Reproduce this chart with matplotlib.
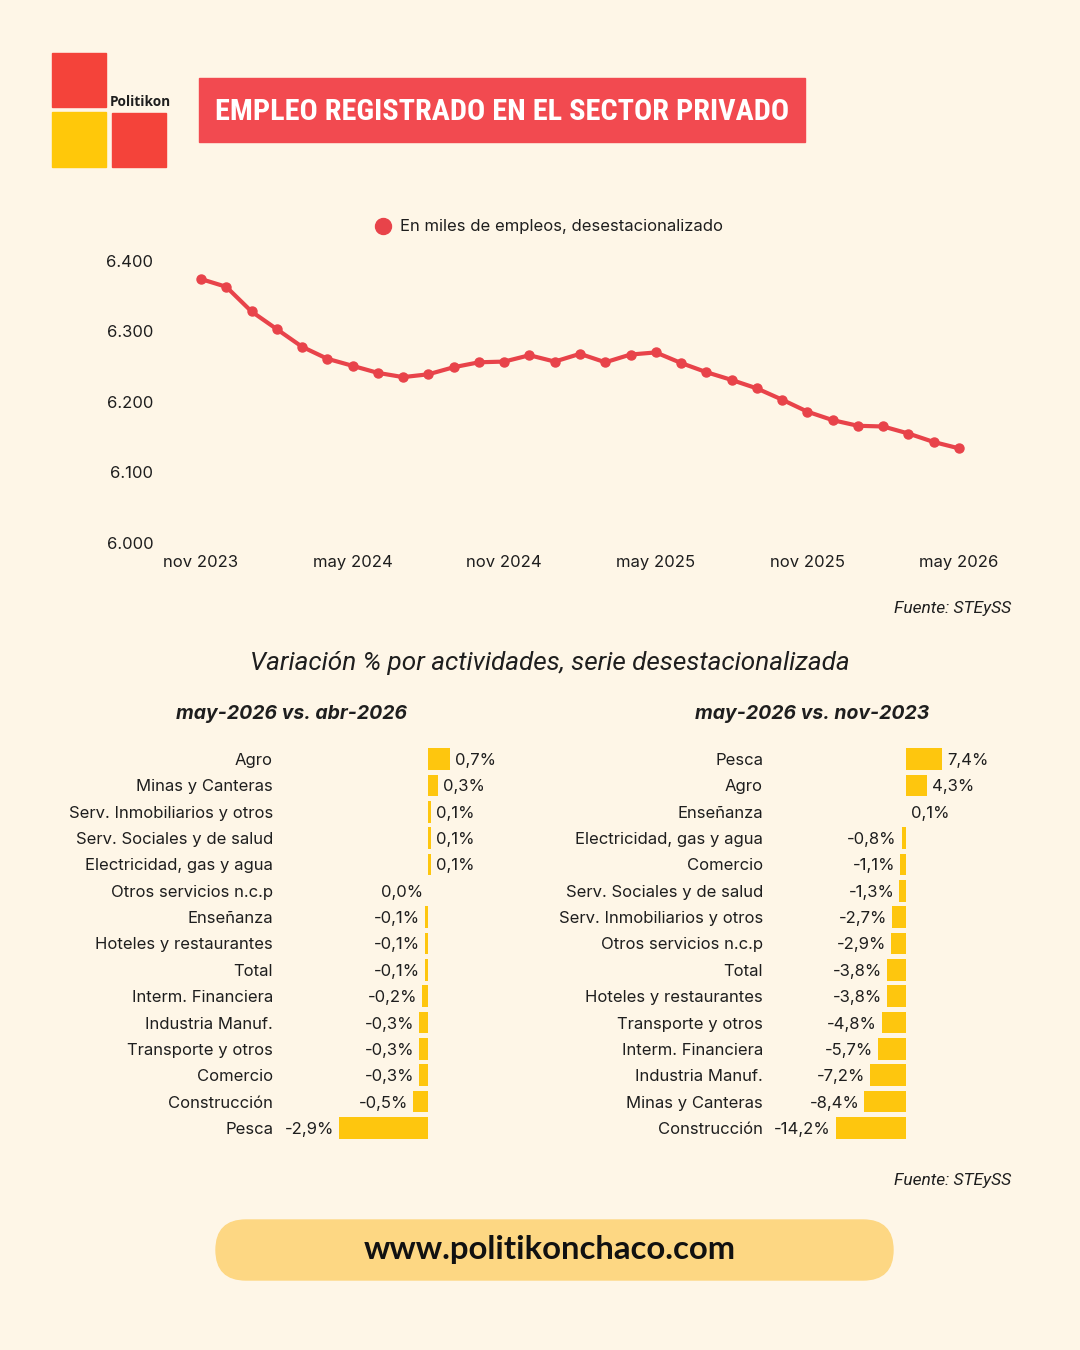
import matplotlib
matplotlib.use("Agg")
import matplotlib.pyplot as plt
from matplotlib.patches import Rectangle, FancyBboxPatch
from matplotlib.lines import Line2D
from matplotlib.ticker import FuncFormatter

# ---------------- data ----------------
empleo = [6374, 6363, 6328, 6303, 6278, 6261, 6251, 6241, 6235, 6239, 6249,
          6256, 6257, 6266, 6257, 6268, 6256, 6267, 6270, 6255, 6242, 6231,
          6219, 6203, 6186, 6174, 6166, 6165, 6155, 6143, 6134]
xtick_pos = [0, 6, 12, 18, 24, 30]
xtick_labels = ["nov 2023", "may 2024", "nov 2024", "may 2025", "nov 2025", "may 2026"]
yticks = [6000, 6100, 6200, 6300, 6400]

mensual_cat = ["Agro", "Minas y Canteras", "Serv. Inmobiliarios y otros",
               "Serv. Sociales y de salud", "Electricidad, gas y agua",
               "Otros servicios n.c.p", "Enseñanza", "Hoteles y restaurantes",
               "Total", "Interm. Financiera", "Industria Manuf.",
               "Transporte y otros", "Comercio", "Construcción", "Pesca"]
mensual_val = [0.7, 0.3, 0.1, 0.1, 0.1, 0.0, -0.1, -0.1, -0.1, -0.2, -0.3,
               -0.3, -0.3, -0.5, -2.9]

acum_cat = ["Pesca", "Agro", "Enseñanza", "Electricidad, gas y agua",
            "Comercio", "Serv. Sociales y de salud", "Serv. Inmobiliarios y otros",
            "Otros servicios n.c.p", "Total", "Hoteles y restaurantes",
            "Transporte y otros", "Interm. Financiera", "Industria Manuf.",
            "Minas y Canteras", "Construcción"]
acum_val = [7.4, 4.3, 0.1, -0.8, -1.1, -1.3, -2.7, -2.9, -3.8, -3.8, -4.8,
            -5.7, -7.2, -8.4, -14.2]

# ---------------- style ----------------
BG = "#FEF6E7"
RED = "#E8434A"
TITLE_RED = "#F24A50"
LOGO_RED = "#F4433A"
YELLOW = "#FEC60E"
PILL = "#FDD783"
TXT = "#1E1E1E"
FONT = ["Inter", "DejaVu Sans"]
plt.rcParams["font.family"] = FONT

W, H = 1080, 1350
fig = plt.figure(figsize=(W / 100, H / 100), dpi=100, facecolor=BG)
renderer = fig.canvas.get_renderer()


def fx(px):
    return px / W


def fy(py):
    return 1 - py / H


def box(x0, y0, x1, y1):
    return [fx(x0), fy(y1), fx(x1) - fx(x0), fy(y0) - fy(y1)]


# ---------------- logo ----------------
fig.patches.append(Rectangle((fx(52), fy(107)), fx(106) - fx(52), fy(53) - fy(107),
                             transform=fig.transFigure, color=LOGO_RED, zorder=1))
fig.patches.append(Rectangle((fx(52), fy(167)), fx(106) - fx(52), fy(112) - fy(167),
                             transform=fig.transFigure, color="#FFC80A", zorder=1))
fig.patches.append(Rectangle((fx(112), fy(167)), fx(166) - fx(112), fy(113) - fy(167),
                             transform=fig.transFigure, color=LOGO_RED, zorder=1))
fig.text(fx(110), fy(102), "Politikon", fontsize=9.8, fontweight="bold",
         color=TXT, ha="left", va="center", family=["Open Sans", "DejaVu Sans"])

# ---------------- title ----------------
fig.patches.append(Rectangle((fx(199), fy(142)), fx(805) - fx(199), fy(78) - fy(142),
                             transform=fig.transFigure, color=TITLE_RED, zorder=1))
title = fig.text(fx(502), fy(112), "EMPLEO REGISTRADO EN EL SECTOR PRIVADO", fontsize=25,
                 fontweight="bold", color="white", ha="center", va="center",
                 family=["Roboto Condensed", "Roboto", "DejaVu Sans"])
tw = title.get_window_extent(renderer).width
title.set_fontsize(25 * 574 / tw)

# ---------------- line chart ----------------
ax = fig.add_axes(box(175.7, 260.7, 984.3, 542.9))
ax.set_facecolor("none")
xs = list(range(len(empleo)))
ax.plot(xs, empleo, color=RED, lw=3, marker="o", ms=6.5, clip_on=False, zorder=3)
ax.set_xlim(-1, 31)
ax.set_ylim(6000, 6400)
ax.set_yticks(yticks)
ax.yaxis.set_major_formatter(FuncFormatter(lambda v, p: f"{int(v):,}".replace(",", ".")))
ax.set_xticks(xtick_pos)
ax.set_xticklabels(xtick_labels)
ax.tick_params(axis="both", length=0, labelsize=12, colors=TXT)
ax.tick_params(axis="y", pad=16)
ax.tick_params(axis="x", pad=9)
for s in ax.spines.values():
    s.set_visible(False)
handle = Line2D([], [], color=RED, marker="o", ms=11.5, lw=0)
leg = fig.legend([handle], ["En miles de empleos, desestacionalizado"],
                 loc="center", bbox_to_anchor=(fx(548), fy(227)), frameon=False,
                 fontsize=12, handletextpad=0.4, handlelength=1.2)
for t in leg.get_texts():
    t.set_color(TXT)

fig.text(fx(1011), fy(609), "Fuente: STEySS", fontsize=12.5, style="italic",
         ha="right", va="center", color=TXT, family=["Roboto", "DejaVu Sans"])

# ---------------- subtitle ----------------
fig.text(fx(550), fy(663), "Variación % por actividades, serie desestacionalizada",
         fontsize=18.8, style="italic", ha="center", va="center", color=TXT,
         family=["Roboto", "DejaVu Sans"])
fig.text(fx(292), fy(714), "may-2026 vs. abr-2026", fontsize=14, style="italic",
         fontweight="bold", ha="center", va="center", color=TXT)
fig.text(fx(812), fy(714), "may-2026 vs. nov-2023", fontsize=14, style="italic",
         fontweight="bold", ha="center", va="center", color=TXT)


def fmt(v):
    return f"{v:.1f}%".replace(".", ",")


def bar_panel(rect_px, x0px, ppu, cats, vals):
    left, right = rect_px[0], rect_px[2]
    a = fig.add_axes(box(*rect_px))
    a.set_facecolor("none")
    a.set_xlim((left - x0px) / ppu, (right - x0px) / ppu)
    n = len(cats)
    ys = list(range(n))
    a.barh(ys, vals, height=0.82, color=YELLOW, zorder=2)
    a.set_ylim(n - 0.5, -0.5)
    a.set_yticks(ys)
    a.set_yticklabels(cats)
    a.tick_params(axis="y", length=0, labelsize=12, pad=5, colors=TXT)
    a.set_xticks([])
    for s in a.spines.values():
        s.set_visible(False)
    off = 5 / ppu
    for y, v in zip(ys, vals):
        if v > 0:
            a.text(v + off, y, fmt(v), ha="left", va="center_baseline",
                   fontsize=12, color=TXT)
        else:
            a.text(v - off, y, fmt(v), ha="right", va="center_baseline",
                   fontsize=12, color=TXT)
    return a


bar_panel((280, 745.8, 510, 1141.2), 428.3, 30.7, mensual_cat, mensual_val)
bar_panel((770, 745.8, 1010, 1141.2), 905.7, 4.92, acum_cat, acum_val)

fig.text(fx(1011), fy(1181), "Fuente: STEySS", fontsize=12.5, style="italic",
         ha="right", va="center", color=TXT, family=["Roboto", "DejaVu Sans"])

# ---------------- footer ----------------
pill = FancyBboxPatch((216, H - 1280), 893 - 216, 60,
                      boxstyle="round,pad=0,rounding_size=30",
                      transform=None, color=PILL, zorder=1)
fig.patches.append(pill)
fig.text(fx(550), fy(1249), "www.politikonchaco.com", fontsize=23.7, fontweight="bold",
         ha="center", va="center", color="#111111", family=["Lato", "DejaVu Sans"])

fig.savefig("out.png", dpi=100, facecolor=BG)
